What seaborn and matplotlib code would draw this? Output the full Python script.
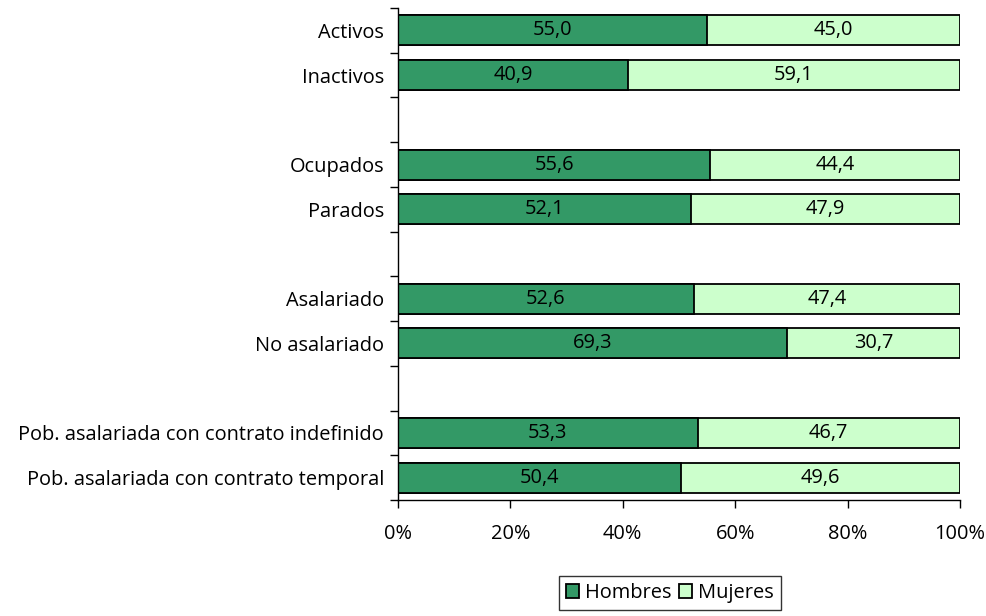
import matplotlib
matplotlib.use("Agg")
import matplotlib.pyplot as plt
from matplotlib.patches import Patch
import numpy as np
import pandas as pd
import seaborn as sns

# Groups of categories, separated by an empty row on the chart
groups = [
    ["Activos", "Inactivos"],
    ["Ocupados", "Parados"],
    ["Asalariado", "No asalariado"],
    ["Pob. asalariada con contrato indefinido", "Pob. asalariada con contrato temporal"],
]
hombres = [55.0, 40.9, 55.6, 52.1, 52.6, 69.3, 53.3, 50.4]
mujeres = [45.0, 59.1, 44.4, 47.9, 47.4, 30.7, 46.7, 49.6]
series_names = ["Hombres", "Mujeres"]
x_ticks = [0, 20, 40, 60, 80, 100]

dark = "#339966"
light = "#CCFFCC"

# Row positions: each group takes its rows, followed by one blank row
categories, positions = [], []
row = 0
for g in groups:
    for c in g:
        categories.append(c)
        positions.append(row)
        row += 1
    row += 1
n_rows = row - 1

df = pd.DataFrame({
    "categoria": categories,
    "pos": positions,
    "hombres": hombres,
    "mujeres": mujeres,
})
df["total"] = df["hombres"] + df["mujeres"]

sns.set_style("white")
plt.rcParams["font.family"] = ["Open Sans", "DejaVu Sans"]
plt.rcParams["text.color"] = "black"
plt.rcParams["xtick.color"] = "black"
plt.rcParams["ytick.color"] = "black"

fig = plt.figure(figsize=(9.86, 6.16), dpi=100)
ax = fig.add_axes([398 / 986, 1 - 500 / 616, (960 - 398) / 986, (500 - 8) / 616])

bar_kw = dict(orient="h", native_scale=True, width=0.67, edgecolor="black",
              linewidth=1.3, saturation=1, ax=ax)
sns.barplot(data=df, x="total", y="pos", color=light, **bar_kw)
sns.barplot(data=df, x="hombres", y="pos", color=dark, **bar_kw)

fs = 14.4
for _, r in df.iterrows():
    ax.text(r["hombres"] / 2, r["pos"], f"{r['hombres']:.1f}".replace(".", ","),
            ha="center", va="center", fontsize=fs, color="black")
    ax.text(r["hombres"] + r["mujeres"] / 2, r["pos"],
            f"{r['mujeres']:.1f}".replace(".", ","),
            ha="center", va="center", fontsize=fs, color="black")

ax.set_xlim(0, 100)
ax.set_ylim(n_rows - 0.5, -0.5)
ax.set_xticks(x_ticks)
ax.set_xticklabels([f"{t}%" for t in x_ticks], fontsize=fs, color="black")
ax.set_yticks(np.arange(-0.5, n_rows, 1.0))
ax.set_yticklabels([])
ax.set_yticks(positions, minor=True)
ax.set_yticklabels(categories, minor=True, fontsize=fs, color="black")
ax.tick_params(axis="y", which="major", direction="out", length=6, width=1, color="black", left=True)
ax.tick_params(axis="y", which="minor", length=0, pad=10)
ax.tick_params(axis="x", which="major", direction="out", length=6, width=1, color="black",
               bottom=True, pad=11)
ax.set_xlabel("")
ax.set_ylabel("")
for s in ["top", "right"]:
    ax.spines[s].set_visible(False)
for s in ["left", "bottom"]:
    ax.spines[s].set_color("black")
    ax.spines[s].set_linewidth(1)
ax.grid(False)

handles = [Patch(facecolor=dark, edgecolor="black", linewidth=1.3),
           Patch(facecolor=light, edgecolor="black", linewidth=1.3)]
leg = fig.legend(handles, series_names, loc="center", bbox_to_anchor=(670 / 986, 1 - 593 / 616),
                 ncol=2, frameon=True, fancybox=False, fontsize=fs, handlelength=0.65,
                 handleheight=0.65, handletextpad=0.3, columnspacing=0.4, borderpad=0.35,
                 borderaxespad=0)
leg.get_frame().set_edgecolor("black")
leg.get_frame().set_linewidth(1)
for t in leg.get_texts():
    t.set_color("black")

fig.savefig("out.png", dpi=100, facecolor="white")
